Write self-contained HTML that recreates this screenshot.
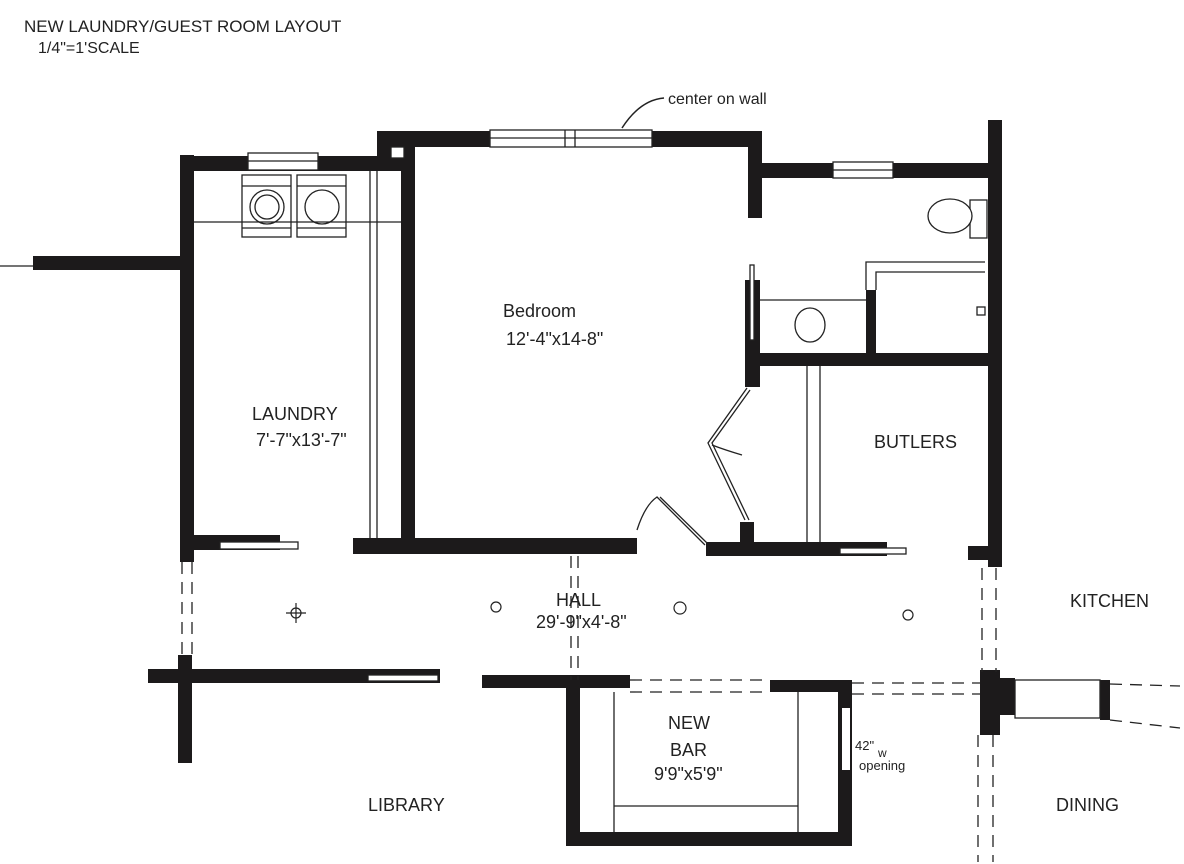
<!DOCTYPE html>
<html><head><meta charset="utf-8"><style>
html,body{margin:0;padding:0;background:#fff;}
svg{display:block;}
text{font-family:"Liberation Sans",sans-serif;fill:#222;}
</style></head><body>
<svg width="1184" height="864" viewBox="0 0 1184 864" xmlns="http://www.w3.org/2000/svg">
<rect width="1184" height="864" fill="#fff"/>
<text x="24" y="32" font-size="17">NEW LAUNDRY/GUEST ROOM LAYOUT</text>
<text x="38" y="53" font-size="16">1/4"=1'SCALE</text>
<text x="668" y="104" font-size="16">center on wall</text>
<path d="M622 128 Q640 100 664 98" fill="none" stroke="#222" stroke-width="1.5"/>
<g fill="#1c1a1b">
<!-- laundry -->
<rect x="33" y="256" width="152" height="14"/>
<rect x="180" y="155" width="14" height="407"/>
<rect x="188" y="156" width="215" height="15"/>
<rect x="377" y="131" width="38" height="30"/>
<rect x="377" y="131" width="383" height="16"/>
<rect x="401" y="147" width="14" height="393"/>
<rect x="748" y="131" width="14" height="87"/>
<rect x="762" y="163" width="228" height="15"/>
<rect x="988" y="120" width="14" height="447"/>
<rect x="866" y="290" width="10" height="66"/>
<rect x="745" y="353" width="245" height="13"/>
<rect x="745" y="280" width="15" height="107"/>
<rect x="740" y="522" width="14" height="24"/>
<rect x="706" y="542" width="181" height="14"/>
<rect x="968" y="546" width="22" height="14"/>
<rect x="353" y="538" width="284" height="16"/>
<rect x="193" y="535" width="87" height="15"/>
<rect x="148" y="669" width="292" height="14"/>
<rect x="178" y="655" width="14" height="108"/>
<rect x="482" y="675" width="148" height="13"/>
<rect x="566" y="680" width="14" height="166"/>
<rect x="566" y="832" width="286" height="14"/>
<rect x="838" y="680" width="14" height="166"/>
<rect x="770" y="680" width="82" height="12"/>
<rect x="980" y="670" width="20" height="65"/>
<rect x="1000" y="678" width="15" height="37"/>
<rect x="1100" y="680" width="10" height="40"/>
</g>
<g fill="#fff" stroke="#222" stroke-width="1.3">
<rect x="391" y="147" width="13" height="11"/>
<rect x="248" y="153" width="70" height="17"/>
<rect x="490" y="130" width="162" height="17"/>
<rect x="833" y="162" width="60" height="16"/>
<rect x="220" y="542" width="78" height="7"/>
<rect x="368" y="675" width="70" height="6"/>
<rect x="840" y="548" width="66" height="6"/>
<rect x="750" y="265" width="4" height="75"/>
<rect x="842" y="708" width="8" height="62" stroke-width="0"/>
<rect x="1015" y="680" width="85" height="38"/>
<rect x="242" y="175" width="49" height="62"/>
<rect x="297" y="175" width="49" height="62"/>
<rect x="970" y="200" width="17" height="38"/>
<ellipse cx="950" cy="216" rx="22" ry="17"/>
<rect x="977" y="307" width="8" height="8"/>
<ellipse cx="810" cy="325" rx="15" ry="17"/>
</g>
<g fill="none" stroke="#222" stroke-width="1.3">
<line x1="248" y1="161" x2="318" y2="161"/>
<line x1="490" y1="138" x2="652" y2="138"/><line x1="565" y1="130" x2="565" y2="147"/><line x1="575" y1="130" x2="575" y2="147"/>
<line x1="833" y1="170" x2="893" y2="170"/>
<line x1="242" y1="186" x2="291" y2="186"/><line x1="297" y1="186" x2="346" y2="186"/>
<line x1="242" y1="228" x2="291" y2="228"/><line x1="297" y1="228" x2="346" y2="228"/>
<circle cx="267" cy="207" r="17"/><circle cx="267" cy="207" r="12"/><circle cx="322" cy="207" r="17"/>
<line x1="194" y1="222" x2="401" y2="222"/>
<line x1="370" y1="171" x2="370" y2="538"/><line x1="377" y1="171" x2="377" y2="538"/>
<path d="M866 290 V262 H985 M876 290 V272 H985"/>
<line x1="760" y1="300" x2="866" y2="300"/>
<line x1="807" y1="366" x2="807" y2="542"/><line x1="820" y1="366" x2="820" y2="542"/>
<path d="M747 388 L708 443 L745 520 M750 390 L712 443 L749 520"/>
<path d="M712 445 Q725 450 742 455"/>
<path d="M637 530 Q645 505 657 497 L705 545 M660 497 L707 543"/>
<line x1="614" y1="692" x2="614" y2="832"/><line x1="798" y1="692" x2="798" y2="832"/>
<line x1="614" y1="806" x2="798" y2="806"/>
<line x1="0" y1="266" x2="33" y2="266"/>
<g stroke-dasharray="12,8">
<line x1="182" y1="562" x2="182" y2="660"/><line x1="192" y1="562" x2="192" y2="660"/>
<line x1="571" y1="556" x2="571" y2="680"/><line x1="578" y1="556" x2="578" y2="680"/>
<line x1="982" y1="568" x2="982" y2="672"/><line x1="996" y1="568" x2="996" y2="672"/>
<line x1="630" y1="680" x2="770" y2="680"/><line x1="630" y1="692" x2="770" y2="692"/>
<line x1="852" y1="683" x2="980" y2="683"/><line x1="852" y1="694" x2="980" y2="694"/>
<line x1="1110" y1="684" x2="1180" y2="686"/><line x1="1110" y1="720" x2="1180" y2="728"/>
<line x1="978" y1="735" x2="978" y2="862"/><line x1="993" y1="735" x2="993" y2="862"/>
</g>
<g stroke-width="1.2">
<circle cx="296" cy="613" r="5"/><line x1="286" y1="613" x2="306" y2="613"/><line x1="296" y1="603" x2="296" y2="623"/>
<circle cx="496" cy="607" r="5"/><circle cx="680" cy="608" r="6"/><circle cx="908" cy="615" r="5"/>
</g>
</g>
<g font-size="18">
<text x="503" y="317">Bedroom</text>
<text x="506" y="345">12'-4"x14-8"</text>
<text x="252" y="420">LAUNDRY</text>
<text x="256" y="446">7'-7"x13'-7"</text>
<text x="874" y="448">BUTLERS</text>
<text x="556" y="606">HALL</text>
<text x="536" y="628">29'-9"x4'-8"</text>
<text x="1070" y="607">KITCHEN</text>
<text x="668" y="729">NEW</text>
<text x="670" y="756">BAR</text>
<text x="654" y="780">9'9"x5'9"</text>
<text x="368" y="811">LIBRARY</text>
<text x="1056" y="811">DINING</text>
</g>
<text x="855" y="750" font-size="13">42"</text>
<text x="878" y="757" font-size="12">w</text>
<text x="859" y="770" font-size="13">opening</text>
</svg>
</body></html>
